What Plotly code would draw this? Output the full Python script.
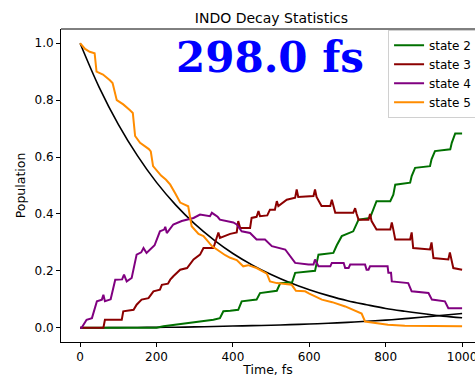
import plotly.graph_objects as go

# ---- data ----
t_fit = [0, 50, 100, 150, 200, 250, 300, 350, 400, 450, 500, 550, 600, 650, 700, 750, 800, 850, 900, 950, 1000]
decay_fit = [1.0, 0.845, 0.715, 0.605, 0.511, 0.432, 0.365, 0.309, 0.261, 0.221, 0.187, 0.158, 0.134, 0.113,
             0.095, 0.081, 0.068, 0.058, 0.049, 0.041, 0.035]
rise_fit = [0.0, 0.0003, 0.0006, 0.001, 0.0015, 0.002, 0.003, 0.0045, 0.006, 0.0075, 0.009, 0.011, 0.013,
            0.016, 0.019, 0.023, 0.027, 0.032, 0.038, 0.044, 0.05]

t_s2 = [0, 200, 218, 279, 314, 349, 366, 375, 393, 414, 423, 462, 471, 515, 524, 555, 563, 615, 624, 663,
        672, 685, 715, 729, 759, 772, 776, 812, 820, 825, 864, 868, 877, 916, 920, 929, 969, 973, 982, 1000]
state2 = [0, 0, 0.005, 0.016, 0.022, 0.028, 0.034, 0.058, 0.06, 0.063, 0.093, 0.099, 0.122, 0.13, 0.157,
          0.16, 0.193, 0.2, 0.257, 0.263, 0.29, 0.322, 0.339, 0.38, 0.386, 0.433, 0.445, 0.445, 0.468, 0.503,
          0.51, 0.533, 0.562, 0.568, 0.592, 0.621, 0.627, 0.65, 0.683, 0.683]

t_s3 = [0, 61, 65, 109, 113, 140, 148, 161, 179, 192, 209, 214, 230, 236, 244, 262, 280, 297, 314, 323, 349,
        358, 362, 366, 393, 410, 414, 419, 445, 449, 462, 467, 471, 490, 497, 510, 515, 519, 541, 563, 567,
        571, 611, 615, 619, 632, 655, 659, 663, 668, 715, 720, 724, 729, 755, 759, 763, 776, 812, 816, 820,
        825, 864, 868, 872, 916, 920, 925, 964, 968, 977, 1000]
state3 = [0, 0, 0.028, 0.028, 0.058, 0.063, 0.081, 0.099, 0.104, 0.128, 0.134, 0.151, 0.155, 0.169, 0.181,
          0.204, 0.21, 0.24, 0.257, 0.28, 0.28, 0.316, 0.335, 0.316, 0.33, 0.335, 0.375, 0.351, 0.351, 0.386,
          0.39, 0.41, 0.392, 0.395, 0.415, 0.415, 0.445, 0.428, 0.45, 0.457, 0.486, 0.46, 0.463, 0.486, 0.46,
          0.428, 0.428, 0.45, 0.428, 0.404, 0.404, 0.42, 0.4, 0.38, 0.38, 0.4, 0.375, 0.345, 0.345, 0.37,
          0.345, 0.31, 0.31, 0.335, 0.28, 0.275, 0.3, 0.245, 0.24, 0.265, 0.21, 0.204]

t_s4 = [0, 4, 17, 31, 44, 57, 61, 65, 80, 92, 110, 115, 122, 135, 148, 160, 166, 174, 195, 209, 220, 223,
        227, 244, 266, 297, 314, 340, 345, 360, 366, 401, 410, 423, 445, 462, 484, 502, 537, 563, 598, 611,
        615, 624, 655, 659, 690, 694, 703, 707, 746, 750, 755, 759, 805, 807, 814, 816, 859, 868, 912, 921,
        955, 964, 1000]
state4 = [0, 0, 0.028, 0.034, 0.093, 0.099, 0.116, 0.093, 0.1, 0.169, 0.17, 0.187, 0.163, 0.175, 0.257,
          0.265, 0.28, 0.263, 0.29, 0.339, 0.345, 0.355, 0.333, 0.363, 0.375, 0.386, 0.398, 0.392, 0.404,
          0.39, 0.38, 0.37, 0.363, 0.339, 0.333, 0.31, 0.31, 0.287, 0.275, 0.228, 0.222, 0.222, 0.24, 0.216,
          0.216, 0.228, 0.228, 0.21, 0.21, 0.222, 0.222, 0.204, 0.204, 0.216, 0.216, 0.193, 0.193, 0.163,
          0.157, 0.128, 0.122, 0.099, 0.093, 0.069, 0.069]

t_s5 = [0, 13, 25, 38, 43, 60, 78, 85, 96, 113, 130, 138, 144, 157, 180, 185, 191, 212, 225, 236, 250, 262,
        283, 292, 310, 323, 345, 358, 380, 393, 410, 427, 440, 462, 489, 497, 515, 554, 565, 589, 600, 633,
        660, 694, 737, 746, 806, 850, 1000]
state5 = [1.0, 0.98, 0.97, 0.965, 0.9, 0.89, 0.87, 0.86, 0.8, 0.785, 0.765, 0.755, 0.674, 0.65, 0.628, 0.62,
          0.568, 0.535, 0.52, 0.503, 0.47, 0.44, 0.427, 0.357, 0.33, 0.322, 0.287, 0.275, 0.255, 0.246, 0.238,
          0.216, 0.22, 0.21, 0.19, 0.163, 0.157, 0.151, 0.13, 0.128, 0.12, 0.099, 0.09, 0.075, 0.05, 0.022,
          0.011, 0.007, 0.005]

x_ticks = [0, 200, 400, 600, 800, 1000]
y_ticks = [0.0, 0.2, 0.4, 0.6, 0.8, 1.0]
y_tick_text = ["0.0", "0.2", "0.4", "0.6", "0.8", "1.0"]
lifetime_label = "298.0 fs"

FONT = "DejaVu Sans"
fig = go.Figure()

fig.add_trace(go.Scatter(x=t_fit, y=decay_fit, mode="lines", line=dict(color="black", width=1.6, shape="spline"),
                         showlegend=False))
fig.add_trace(go.Scatter(x=t_fit, y=rise_fit, mode="lines", line=dict(color="black", width=1.6, shape="spline"),
                         showlegend=False))

series = [("state 2", t_s2, state2, "#007000"),
          ("state 3", t_s3, state3, "#8b0000"),
          ("state 4", t_s4, state4, "#800080"),
          ("state 5", t_s5, state5, "#ff8c00")]
for name, tx, vy, col in series:
    fig.add_trace(go.Scatter(x=tx, y=vy, mode="lines", name=name, line=dict(color=col, width=2)))

fig.add_annotation(x=0.505, y=0.91, xref="paper", yref="paper", text=lifetime_label, showarrow=False,
                   xanchor="center", yanchor="middle",
                   font=dict(family="DejaVu Serif", size=42, color="#0000ff", weight="bold"))

fig.add_shape(type="line", xref="paper", yref="paper", x0=0, x1=1, y0=1, y1=1,
              line=dict(color="black", width=1))

fig.update_layout(
    width=475, height=377,
    margin=dict(l=61, r=0, t=29, b=35, autoexpand=False),
    paper_bgcolor="white", plot_bgcolor="white",
    font=dict(family=FONT, size=12, color="#000000"),
    title=dict(text="INDO Decay Statistics", x=0.5714, xanchor="center", y=0.953, yanchor="middle",
               font=dict(size=14, family=FONT, color="#000")),
    legend=dict(x=0.79, y=0.998, xanchor="left", yanchor="top", bgcolor="rgba(255,255,255,0.8)",
                bordercolor="#d0d0d0", borderwidth=1, font=dict(size=12, family=FONT),
                tracegroupgap=0, itemwidth=30),
    xaxis=dict(range=[-50, 1033.8], tickvals=x_ticks, showgrid=False, zeroline=False, showline=True,
               linecolor="black", linewidth=1, ticks="outside", ticklen=4, tickcolor="black",
               ticklabeloverflow="allow",
               title=dict(text="Time, fs", font=dict(size=12.5), standoff=3), tickfont=dict(size=12)),
    yaxis=dict(range=[-0.05, 1.05], tickvals=y_ticks, ticktext=y_tick_text, showgrid=False, zeroline=False,
               showline=True, linecolor="black", linewidth=1, ticks="outside", ticklen=4, tickcolor="black",
               title=dict(text="Population", font=dict(size=12.5), standoff=6), tickfont=dict(size=12)),
)

fig.write_html("out.html")
